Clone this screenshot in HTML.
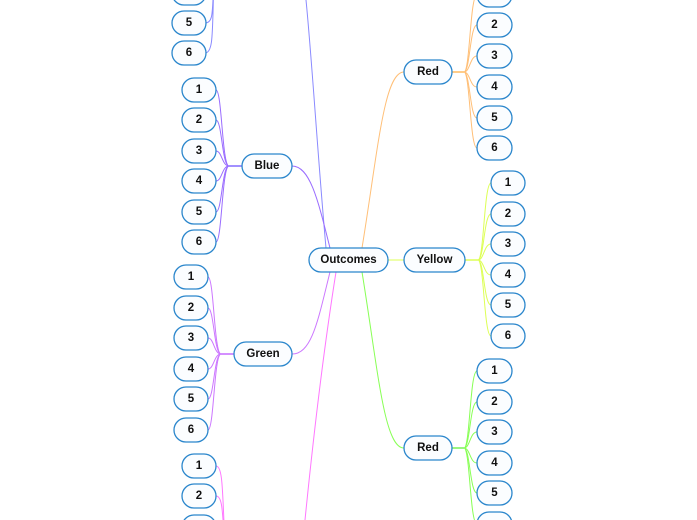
<!DOCTYPE html>
<html><head><meta charset="utf-8"><style>
html,body{margin:0;padding:0;background:#fff;width:697px;height:520px;overflow:hidden}
svg{display:block;overflow:hidden}
text{font-family:"Liberation Sans",sans-serif;font-size:11.5px;font-weight:bold;fill:#111;text-anchor:middle;dominant-baseline:central}
rect{fill:#fbfdff;stroke:#2a86cc;stroke-width:1.3}
path{fill:none;stroke-width:1}
</style></head><body>
<svg width="697" height="520" viewBox="0 0 697 520" xmlns="http://www.w3.org/2000/svg">
<path stroke="#8a8aff" d="M326 248 C318 160 312 60 306 0"/>
<path stroke="#9a6cff" d="M330 248 C318 200 310 166 292 166"/>
<path stroke="#cc77ff" d="M330 272 C318 320 312 354 292 354"/>
<path stroke="#ff77ff" d="M336 272 C322 360 312 450 305 520"/>
<path stroke="#ffbf77" d="M362 248 C378 150 384 72 404 72"/>
<path stroke="#ddff55" d="M388 260 L404 260"/>
<path stroke="#88ff55" d="M362 272 C378 370 384 448 404 448"/>

<g stroke="#8a8aff">
<path d="M214 -20 C212 10 214 23 205 23"/>
<path d="M214 -20 C212 30 214 53 205 53"/>
<path d="M214 -20 C212 -15 212 -7 205 -7"/>
</g>
<path stroke="#4422ff" stroke-width="2" d="M229 166 L242 166"/>
<g stroke="#9a6cff">
<path d="M229 166 C222 166 222 90 216 90"/>
<path d="M229 166 C222 166 222 120 216 120"/>
<path d="M229 166 C222 166 222 151 216 151"/>
<path d="M229 166 C222 166 222 181 216 181"/>
<path d="M229 166 C222 166 222 212 216 212"/>
<path d="M229 166 C222 166 222 242 216 242"/>
</g>
<path stroke="#aa22ff" stroke-width="2" d="M221 354 L234 354"/>
<g stroke="#cc77ff">
<path d="M221 354 C214 354 214 277 208 277"/>
<path d="M221 354 C214 354 214 308 208 308"/>
<path d="M221 354 C214 354 214 338 208 338"/>
<path d="M221 354 C214 354 214 369 208 369"/>
<path d="M221 354 C214 354 214 399 208 399"/>
<path d="M221 354 C214 354 214 430 208 430"/>
</g>
<g stroke="#ff77ff">
<path d="M226 560 C222 500 224 466 216 466"/>
<path d="M226 560 C222 520 224 496 216 496"/>
<path d="M226 560 C222 540 224 527 216 527"/>
</g>
<path stroke="#ff9911" stroke-width="2" d="M452 72 L464 72"/>
<g stroke="#ffbf77">
<path d="M464 72 C470 72 470 -5 477 -5"/>
<path d="M464 72 C470 72 470 25 477 25"/>
<path d="M464 72 C470 72 470 56 477 56"/>
<path d="M464 72 C470 72 470 87 477 87"/>
<path d="M464 72 C470 72 470 118 477 118"/>
<path d="M464 72 C470 72 470 148 477 148"/>
</g>
<path stroke="#ccff00" stroke-width="2" d="M465 260 L478 260"/>
<g stroke="#ddff55">
<path d="M478 260 C484 260 484 183 491 183"/>
<path d="M478 260 C484 260 484 214 491 214"/>
<path d="M478 260 C484 260 484 244 491 244"/>
<path d="M478 260 C484 260 484 275 491 275"/>
<path d="M478 260 C484 260 484 305 491 305"/>
<path d="M478 260 C484 260 484 336 491 336"/>
</g>
<path stroke="#33ee00" stroke-width="2" d="M452 448 L464 448"/>
<g stroke="#88ff55">
<path d="M464 448 C470 448 470 371 477 371"/>
<path d="M464 448 C470 448 470 402 477 402"/>
<path d="M464 448 C470 448 470 432 477 432"/>
<path d="M464 448 C470 448 470 463 477 463"/>
<path d="M464 448 C470 448 470 493 477 493"/>
<path d="M464 448 C470 448 470 524 477 524"/>
</g>

<rect x="309" y="248" width="79" height="24" rx="12"/><text x="348.5" y="260">Outcomes</text>
<rect x="242" y="154" width="50" height="24" rx="12"/><text x="267" y="166">Blue</text>
<rect x="234" y="342" width="58" height="24" rx="12"/><text x="263" y="354">Green</text>
<rect x="404" y="60" width="48" height="24" rx="12"/><text x="428" y="72">Red</text>
<rect x="404" y="248" width="61" height="24" rx="12"/><text x="434.5" y="260">Yellow</text>
<rect x="404" y="436" width="48" height="24" rx="12"/><text x="428" y="448">Red</text>

<rect x="172" y="-19" width="34" height="24" rx="12"/>
<rect x="172" y="11" width="34" height="24" rx="12"/><text x="189" y="23">5</text>
<rect x="172" y="41" width="34" height="24" rx="12"/><text x="189" y="53">6</text>
<rect x="182" y="78" width="34" height="24" rx="12"/><text x="199" y="90">1</text>
<rect x="182" y="108" width="34" height="24" rx="12"/><text x="199" y="120">2</text>
<rect x="182" y="139" width="34" height="24" rx="12"/><text x="199" y="151">3</text>
<rect x="182" y="169" width="34" height="24" rx="12"/><text x="199" y="181">4</text>
<rect x="182" y="200" width="34" height="24" rx="12"/><text x="199" y="212">5</text>
<rect x="182" y="230" width="34" height="24" rx="12"/><text x="199" y="242">6</text>
<rect x="174" y="265" width="34" height="24" rx="12"/><text x="191" y="277">1</text>
<rect x="174" y="296" width="34" height="24" rx="12"/><text x="191" y="308">2</text>
<rect x="174" y="326" width="34" height="24" rx="12"/><text x="191" y="338">3</text>
<rect x="174" y="357" width="34" height="24" rx="12"/><text x="191" y="369">4</text>
<rect x="174" y="387" width="34" height="24" rx="12"/><text x="191" y="399">5</text>
<rect x="174" y="418" width="34" height="24" rx="12"/><text x="191" y="430">6</text>
<rect x="182" y="454" width="34" height="24" rx="12"/><text x="199" y="466">1</text>
<rect x="182" y="484" width="34" height="24" rx="12"/><text x="199" y="496">2</text>
<rect x="182" y="515" width="34" height="24" rx="12"/>
<rect x="477" y="-17" width="35" height="24" rx="12"/>
<rect x="477" y="13" width="35" height="24" rx="12"/><text x="494.5" y="25">2</text>
<rect x="477" y="44" width="35" height="24" rx="12"/><text x="494.5" y="56">3</text>
<rect x="477" y="75" width="35" height="24" rx="12"/><text x="494.5" y="87">4</text>
<rect x="477" y="106" width="35" height="24" rx="12"/><text x="494.5" y="118">5</text>
<rect x="477" y="136" width="35" height="24" rx="12"/><text x="494.5" y="148">6</text>
<rect x="491" y="171" width="34" height="24" rx="12"/><text x="508" y="183">1</text>
<rect x="491" y="202" width="34" height="24" rx="12"/><text x="508" y="214">2</text>
<rect x="491" y="232" width="34" height="24" rx="12"/><text x="508" y="244">3</text>
<rect x="491" y="263" width="34" height="24" rx="12"/><text x="508" y="275">4</text>
<rect x="491" y="293" width="34" height="24" rx="12"/><text x="508" y="305">5</text>
<rect x="491" y="324" width="34" height="24" rx="12"/><text x="508" y="336">6</text>
<rect x="477" y="359" width="35" height="24" rx="12"/><text x="494.5" y="371">1</text>
<rect x="477" y="390" width="35" height="24" rx="12"/><text x="494.5" y="402">2</text>
<rect x="477" y="420" width="35" height="24" rx="12"/><text x="494.5" y="432">3</text>
<rect x="477" y="451" width="35" height="24" rx="12"/><text x="494.5" y="463">4</text>
<rect x="477" y="481" width="35" height="24" rx="12"/><text x="494.5" y="493">5</text>
<rect x="477" y="512" width="35" height="24" rx="12"/>
</svg>
</body></html>
